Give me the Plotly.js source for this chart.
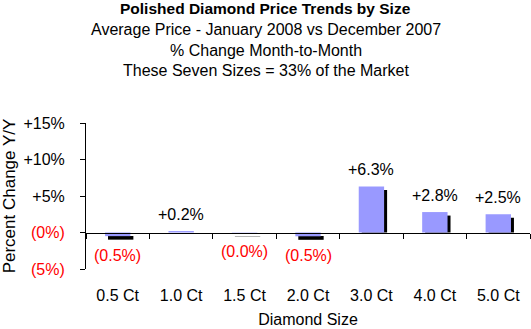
<!DOCTYPE html>
<html>
<head>
<meta charset="utf-8">
<script src="https://cdn.plot.ly/plotly-3.0.1.min.js"></script>
<style>html,body{margin:0;padding:0;background:#fff;}#chart{width:531px;height:329px;}</style>
</head>
<body>
<div id="chart"></div>
<script>
const categories = ['0.5 Ct', '1.0 Ct', '1.5 Ct', '2.0 Ct', '3.0 Ct', '4.0 Ct', '5.0 Ct'];
const changes = [-0.5, 0.2, -0.04, -0.52, 6.3, 2.8, 2.5];
const yTickVals = [-5, 0, 5, 10, 15];
const yTickText = ['(5%)', '(0%)', '+5%', '+10%', '+15%'];
const titleLines = [
  'Polished Diamond Price Trends by Size',
  'Average Price - January 2008 vs December 2007',
  '% Change Month-to-Month',
  'These Seven Sizes = 33% of the Market'
];

const W = 531, H = 329;
const M = {l: 86, r: 1, t: 123, b: 60};
const FONT = 'Liberation Sans, Arial, sans-serif';
const RED = '#FF0000';
const FS = 16;
const shadowDrop = 0.48;   // drop-shadow displacement in y units

function fmt(v) {
  return v >= 0 ? '+' + v.toFixed(1) + '%' : '(' + Math.abs(v).toFixed(1) + '%)';
}
function colorTick(t) {
  return t.startsWith('(') ? '<span style="color:' + RED + '">' + t + '</span>' : t;
}

const shadow = {
  type: 'bar', x: categories,
  y: changes.map(v => v >= 0 ? Math.max(0, v - shadowDrop) : v),
  base: changes.map(v => v >= 0 ? 0 : -shadowDrop),
  width: 0.4, offset: -0.153,
  marker: {color: '#000000', line: {width: 0}},
  hoverinfo: 'skip', showlegend: false
};
const bars = {
  type: 'bar', x: categories, y: changes,
  width: 0.4, offset: -0.2,
  marker: {color: '#9999FF', line: {width: 0}},
  showlegend: false
};

const annotations = [];
categories.forEach((c, i) => {
  const v = changes[i];
  annotations.push({
    xref: 'x', yref: 'y', x: c, y: v, text: fmt(v), showarrow: false,
    xanchor: 'center', yanchor: 'middle', yshift: v >= 0 ? 17 : -19,
    font: {family: FONT, size: FS, color: v >= 0 ? '#000000' : RED}
  });
});
const plotW = W - M.l - M.r, plotH = H - M.t - M.b;
const titleY = [8, 29, 50, 71];
titleLines.forEach((t, i) => {
  annotations.push({
    xref: 'paper', yref: 'paper',
    x: (265.5 - M.l) / plotW, y: (H - M.b - titleY[i]) / plotH,
    text: i === 0 ? '<b>' + t + '</b>' : t, showarrow: false,
    xanchor: 'center', yanchor: 'middle',
    font: {family: FONT, size: i === 0 ? 15.5 : FS, color: '#000000'}
  });
});

const layout = {
  width: W, height: H, margin: M,
  paper_bgcolor: '#ffffff', plot_bgcolor: '#ffffff',
  font: {family: FONT, size: FS, color: '#000000'},
  barmode: 'overlay', showlegend: false,
  xaxis: {
    type: 'category', anchor: 'free', position: 0.25,
    showline: true, linecolor: '#000000', linewidth: 1,
    ticks: 'outside', ticklen: 5, tickcolor: '#000000', tickwidth: 1,
    tickson: 'boundaries', showgrid: false, zeroline: false,
    ticklabelstandoff: 48,
    tickfont: {family: FONT, size: FS, color: '#000000'},
    title: {text: 'Diamond Size', standoff: 11, font: {family: FONT, size: FS, color: '#000000'}},
    automargin: false, fixedrange: true
  },
  yaxis: {
    range: [-5, 15], tickvals: yTickVals, ticktext: yTickText.map(colorTick),
    showline: true, linecolor: '#000000', linewidth: 1,
    ticks: 'outside', ticklen: 5, tickcolor: '#000000', tickwidth: 1,
    showgrid: false, zeroline: false,
    ticklabelstandoff: 12,
    tickfont: {family: FONT, size: FS, color: '#000000'},
    title: {text: 'Percent Change Y/Y', standoff: 12, font: {family: FONT, size: 17, color: '#000000'}},
    automargin: false, fixedrange: true
  },
  annotations: annotations
};

Plotly.newPlot('chart', [shadow, bars], layout, {displayModeBar: false, staticPlot: true});
</script>
</body>
</html>
